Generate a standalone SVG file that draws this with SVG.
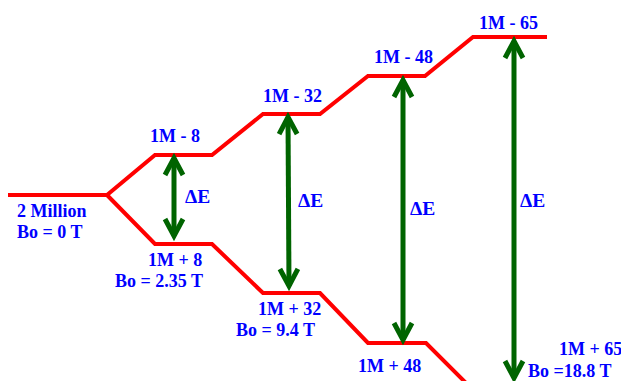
<svg xmlns="http://www.w3.org/2000/svg" width="621" height="381" viewBox="0 0 621 381">
<style>
.lvl{fill:none;stroke:#FF0000;stroke-width:4;stroke-linejoin:miter}
.arr{fill:none;stroke:#006400;stroke-width:5}
.lbl{font-family:"Liberation Serif","Times New Roman",serif;font-weight:bold;font-size:18px;fill:#0000FF}
.de{font-size:19.5px}
</style>
<defs>
<marker id="chev" viewBox="-22 -14 26 28" markerWidth="26" markerHeight="28" refX="0" refY="0" orient="auto-start-reverse" markerUnits="userSpaceOnUse" overflow="visible">
<path d="M-17,-9 L0,0 L-17,9" fill="none" stroke="#006400" stroke-width="5" stroke-linejoin="miter"/>
</marker>
</defs>
<rect width="621" height="381" fill="#FFFFFF"/>
<g id="levels">
<path id="upper" class="lvl" d="M8,195 L107,195 L155,155 L212,155 L263,114 L320,114 L368,76 L425,76 L473,37 L547,37"/>
<path id="lower" class="lvl" d="M107,195 L155,244 L212,244 L263,293 L320,293 L368,343 L426,343 L466,383"/>
</g>
<g id="connectors">
<line class="arr" x1="174" y1="158" x2="174" y2="236" marker-start="url(#chev)" marker-end="url(#chev)"/>
<line class="arr" x1="288" y1="117" x2="289" y2="286" marker-start="url(#chev)" marker-end="url(#chev)"/>
<line class="arr" x1="403" y1="80" x2="403" y2="340" marker-start="url(#chev)" marker-end="url(#chev)"/>
<line class="arr" x1="514" y1="41" x2="514" y2="378" marker-start="url(#chev)" marker-end="url(#chev)"/>
</g>
<g id="n0"><text class="lbl" x="17" y="217">2 Million</text><text class="lbl" x="17" y="238">Bo = 0 T</text></g>
<g id="n1u"><text class="lbl" x="150" y="142">1M - 8</text></g>
<g id="n1l"><text class="lbl" x="148" y="266">1M + 8</text><text class="lbl" x="115" y="287">Bo = 2.35 T</text></g>
<g id="n2u"><text class="lbl" x="263" y="102">1M - 32</text></g>
<g id="n2l"><text class="lbl" x="258" y="315">1M + 32</text><text class="lbl" x="236" y="336">Bo = 9.4 T</text></g>
<g id="n3u"><text class="lbl" x="374" y="63">1M - 48</text></g>
<g id="n3l"><text class="lbl" x="358" y="372">1M + 48</text></g>
<g id="n4u"><text class="lbl" x="479" y="29">1M - 65</text></g>
<g id="n4l"><text class="lbl" x="559" y="355">1M + 65</text><text class="lbl" x="528" y="377">Bo =18.8 T</text></g>
<g id="dE"><text class="lbl de" x="185" y="203">ΔE</text><text class="lbl de" x="298" y="207">ΔE</text><text class="lbl de" x="410" y="215">ΔE</text><text class="lbl de" x="520" y="207">ΔE</text></g>
</svg>
